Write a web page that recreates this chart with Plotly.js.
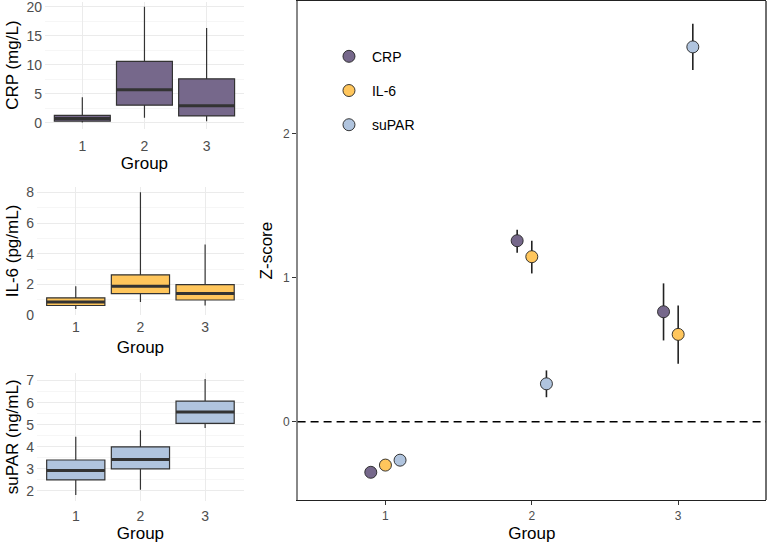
<!DOCTYPE html>
<html>
<head>
<meta charset="utf-8">
<script src="https://cdn.plot.ly/plotly-3.0.1.min.js"></script>
<style>
  html, body { margin: 0; padding: 0; background: #fff; }
  #myDiv { width: 767px; height: 543px; }
</style>
</head>
<body>
<div id="myDiv"></div>
<script>
// groups on every x axis
let groups = [1, 2, 3];
let groupLabels = ["1", "2", "3"];

// box summaries: lower whisker, q1, median, q3, upper whisker
let crpLow = [0.05, 0.9, 0.3];
let crpQ1 = [0.3, 3.05, 1.2];
let crpMed = [0.75, 5.7, 2.95];
let crpQ3 = [1.3, 10.6, 7.6];
let crpHigh = [4.4, 20, 16.35];

let il6Low = [0.4, 0.85, 0.62];
let il6Q1 = [0.62, 1.4, 0.98];
let il6Med = [0.85, 1.88, 1.4];
let il6Q3 = [1.12, 2.62, 1.98];
let il6High = [1.88, 8, 4.6];

let suparLow = [1.82, 2.05, 4.85];
let suparQ1 = [2.5, 3.0, 5.06];
let suparMed = [2.93, 3.42, 5.57];
let suparQ3 = [3.4, 4.0, 6.07];
let suparHigh = [4.45, 4.75, 7.07];

// z-scores with intervals, right panel
let crpZ = [-0.35, 1.257, 0.764];
let crpZlo = [-0.386, 1.173, 0.565];
let crpZhi = [-0.316, 1.333, 0.961];

let il6Z = [-0.30, 1.146, 0.607];
let il6Zlo = [-0.32, 1.03, 0.403];
let il6Zhi = [-0.28, 1.257, 0.808];

let suparZ = [-0.266, 0.264, 2.602];
let suparZlo = [-0.285, 0.171, 2.442];
let suparZhi = [-0.247, 0.357, 2.762];

let names = ["CRP", "IL-6", "suPAR"];
let colors = ["#76688B", "#FFC65C", "#B0C4DE"];
let dodge = [-0.1, 0, 0.1];

let font = "Liberation Sans, Arial, sans-serif";
let edge = "#333333";

function boxTrace(i, xa, ya, low, q1, med, q3, high) {
    return {
        type: "box", xaxis: xa, yaxis: ya, x: groups,
        lowerfence: low, q1: q1, median: med, q3: q3, upperfence: high,
        width: 0.9, whiskerwidth: 0, boxpoints: false,
        fillcolor: colors[i], line: {color: edge, width: 1.2},
        showlegend: false, hoverinfo: "skip"
    };
}

// thicker median bar as in ggplot
function medianTrace(xa, ya, med) {
    let x = [], y = [];
    for (let k = 0; k < groups.length; k++) {
        x.push(groups[k] - 0.45, groups[k] + 0.45, null);
        y.push(med[k], med[k], null);
    }
    return {
        type: "scatter", mode: "lines", xaxis: xa, yaxis: ya, x: x, y: y,
        line: {color: edge, width: 3}, showlegend: false, hoverinfo: "skip"
    };
}

function zTrace(i, z, lo, hi) {
    return {
        type: "scatter", mode: "markers", xaxis: "x4", yaxis: "y4",
        name: names[i], legendgroup: names[i],
        x: groups.map(g => g + dodge[i]), y: z,
        error_y: {
            type: "data", symmetric: false,
            array: hi.map((h, k) => h - z[k]),
            arrayminus: lo.map((l, k) => z[k] - l),
            color: "#222", thickness: 1.6, width: 0
        },
        marker: {size: 12, color: colors[i], line: {color: "#222", width: 0.9}}
    };
}

let data = [
    boxTrace(0, "x", "y", crpLow, crpQ1, crpMed, crpQ3, crpHigh),
    medianTrace("x", "y", crpMed),
    boxTrace(1, "x2", "y2", il6Low, il6Q1, il6Med, il6Q3, il6High),
    medianTrace("x2", "y2", il6Med),
    boxTrace(2, "x3", "y3", suparLow, suparQ1, suparMed, suparQ3, suparHigh),
    medianTrace("x3", "y3", suparMed),
    zTrace(0, crpZ, crpZlo, crpZhi),
    zTrace(1, il6Z, il6Zlo, il6Zhi),
    zTrace(2, suparZ, suparZlo, suparZhi)
];

function leftX(domain, anchor, labelGap, titleGap) {
    return {
        domain: domain, anchor: anchor, range: [0.4, 3.6],
        tickvals: groups, ticktext: groupLabels,
        showgrid: true, gridcolor: "#EBEBEB", gridwidth: 1,
        zeroline: false, showline: false, ticks: "",
        ticklabelstandoff: labelGap,
        tickfont: {family: font, size: 14, color: "#4D4D4D"},
        title: {text: "Group", font: {family: font, size: 17, color: "#000"}, standoff: titleGap}
    };
}

function leftY(domain, anchor, range, dtick, label) {
    return {
        domain: domain, anchor: anchor, range: range, dtick: dtick,
        showgrid: true, gridcolor: "#EBEBEB", gridwidth: 1,
        minor: {dtick: dtick / 2, showgrid: true, gridcolor: "#F2F2F2", gridwidth: 0.7},
        zeroline: false, showline: false, ticks: "",
        ticklabelstandoff: 2, ticklabeloverflow: "allow",
        tickfont: {family: font, size: 14, color: "#4D4D4D"},
        title: {text: label, font: {family: font, size: 17, color: "#000"}, standoff: 3}
    };
}

let layout = {
    width: 767, height: 543,
    margin: {l: 0, r: 0, t: 0, b: 0},
    paper_bgcolor: "#fff", plot_bgcolor: "rgba(0,0,0,0)",
    font: {family: font},
    showlegend: true,
    legend: {
        x: 0.425, y: 0.925, xanchor: "left", yanchor: "top",
        bgcolor: "rgba(0,0,0,0)", tracegroupgap: 13, itemwidth: 36,
        font: {family: font, size: 14, color: "#000"}
    },
    xaxis: leftX([0.0587, 0.318], "y", 7, 2),
    yaxis: leftY([0.763, 0.997], "x", [-1, 20.9], 5, "CRP (mg/L)"),
    xaxis2: leftX([0.0482, 0.318], "y2", 2, 6),
    yaxis2: leftY([0.419, 0.6565], "x2", [-0.03, 8.38], 2, "IL-6 (pg/mL)"),
    xaxis3: leftX([0.0482, 0.318], "y3", 5, 6),
    yaxis3: leftY([0.078, 0.313], "x3", [1.56, 7.34], 1, "suPAR (ng/mL)"),
    xaxis4: {
        domain: [0.388, 0.9987], anchor: "y4", range: [0.4, 3.6],
        tickvals: groups, ticktext: groupLabels,
        showgrid: false, zeroline: false,
        showline: true, linecolor: "#222", linewidth: 1.3, mirror: true,
        ticks: "outside", ticklen: 4, tickcolor: "#333",
        tickfont: {family: font, size: 12, color: "#4D4D4D"},
        title: {text: "Group", font: {family: font, size: 17, color: "#000"}, standoff: 6}
    },
    yaxis4: {
        domain: [0.079, 0.998], anchor: "x4", range: [-0.543, 2.92],
        tickvals: [0, 1, 2],
        showgrid: false, zeroline: false,
        showline: true, linecolor: "#888", linewidth: 1.5,
        ticks: "outside", ticklen: 4, tickcolor: "#333",
        tickfont: {family: font, size: 12, color: "#4D4D4D"},
        title: {text: "Z-score", font: {family: font, size: 17, color: "#000"}, standoff: 6}
    },
    shapes: [
        {type: "line", xref: "x4 domain", yref: "y4", x0: 0, x1: 1, y0: 0, y1: 0,
         line: {color: "#000", width: 1.5, dash: "8px,5px"}},
        {type: "line", xref: "x4 domain", yref: "y4 domain", x0: 1, x1: 1, y0: 0, y1: 1,
         line: {color: "#222", width: 1.3}}
    ]
};

Plotly.newPlot("myDiv", data, layout, {displayModeBar: false, staticPlot: true});
</script>
</body>
</html>
